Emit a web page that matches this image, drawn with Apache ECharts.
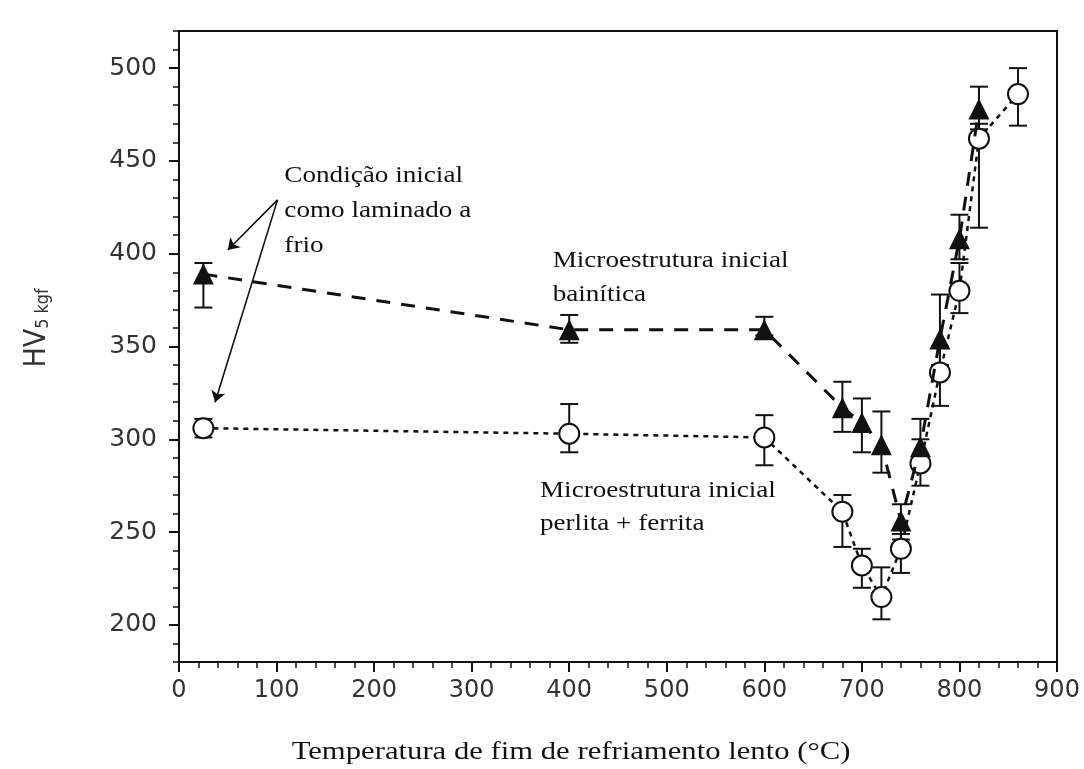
<!DOCTYPE html>
<html>
<head>
<meta charset="utf-8">
<title>HV x Temperatura</title>
<script src="https://cdn.jsdelivr.net/npm/echarts@6/dist/echarts.min.js"></script>
<style>
  html, body { margin: 0; padding: 0; background: #ffffff; }
  #chart { width: 1084px; height: 769px; }
</style>
</head>
<body>
<div id="chart"></div>
<script>
// Microestrutura inicial bainítica (triângulos cheios)
const tempBain = [25, 400, 600, 680, 700, 720, 740, 760, 780, 800, 820];
const hvBain = [389, 359, 359, 317, 309, 297, 256, 296, 354, 408, 478];
const hvBainLow = [371, 352, 356, 304, 293, 282, 246, 285, 340, 397, 467];
const hvBainHigh = [395, 367, 366, 331, 322, 315, 265, 311, 378, 421, 490];

// Microestrutura inicial perlita + ferrita (círculos vazios)
const tempPerl = [25, 400, 600, 680, 700, 720, 740, 760, 780, 800, 820, 860];
const hvPerl = [306, 303, 301, 261, 232, 215, 241, 287, 336, 380, 462, 486];
const hvPerlLow = [301, 293, 286, 242, 220, 203, 228, 275, 318, 368, 414, 469];
const hvPerlHigh = [311, 319, 313, 270, 241, 231, 249, 300, 350, 395, 470, 500];

// Eixos
const xMin = 0, xMax = 900, xStep = 100;
const yMin = 180, yMax = 520;
const yTickLabels = [200, 250, 300, 350, 400, 450, 500];
const yMinorTicks = [];
for (let v = yMin; v <= yMax; v += 10) yMinorTicks.push(v);

// Seta "Condição inicial": origem e alvos (coordenadas de dados)
const arrowFrom = [101, 429];
const arrowTo = [[50, 402], [37, 320]];

const ink = '#111';
const serif = '"Liberation Serif", "Times New Roman", serif';
const sans = '"DejaVu Sans", "Liberation Sans", Arial, sans-serif';
const stretch = 1.18; // largura extra dos textos serifados

const pts = (xs, ys) => xs.map((x, i) => [x, ys[i]]);
const bars = (xs, lo, hi) => xs.map((x, i) => [x, lo[i], hi[i]]);

function renderErrorBar(params, api) {
  const x = api.value(0);
  const lo = api.coord([x, api.value(1)]);
  const hi = api.coord([x, api.value(2)]);
  const half = 9;
  const st = { stroke: ink, lineWidth: 2 };
  return {
    type: 'group',
    children: [
      { type: 'line', shape: { x1: lo[0], y1: lo[1], x2: hi[0], y2: hi[1] }, style: st },
      { type: 'line', shape: { x1: lo[0] - half, y1: lo[1], x2: lo[0] + half, y2: lo[1] }, style: st },
      { type: 'line', shape: { x1: hi[0] - half, y1: hi[1], x2: hi[0] + half, y2: hi[1] }, style: st }
    ]
  };
}

const chart = echarts.init(document.getElementById('chart'), null, { renderer: 'canvas' });

chart.setOption({
  animation: false,
  backgroundColor: '#ffffff',
  grid: {
    left: 179, right: 27, top: 31, bottom: 107,
    show: true, borderColor: ink, borderWidth: 2, backgroundColor: 'transparent'
  },
  xAxis: {
    type: 'value', min: xMin, max: xMax, interval: xStep,
    axisLine: { show: true, lineStyle: { color: ink, width: 2 } },
    axisTick: { show: true, length: 10, lineStyle: { color: ink, width: 2 } },
    minorTick: { show: true, splitNumber: 5, length: 6, lineStyle: { color: ink, width: 1.5 } },
    splitLine: { show: false },
    axisLabel: { color: '#333', fontFamily: sans, fontSize: 24, margin: 17 }
  },
  yAxis: [
    {
      type: 'value', min: yMin, max: yMax, position: 'left',
      axisLine: { show: true, lineStyle: { color: ink, width: 2 } },
      axisTick: { show: true, length: 10, customValues: yTickLabels, lineStyle: { color: ink, width: 2 } },
      axisLabel: { customValues: yTickLabels, color: '#333', fontFamily: sans, fontSize: 25, margin: 22 },
      splitLine: { show: false }
    },
    {
      type: 'value', min: yMin, max: yMax, position: 'left',
      axisLine: { show: false },
      axisTick: { show: true, length: 6, customValues: yMinorTicks, lineStyle: { color: ink, width: 1.5 } },
      axisLabel: { show: false },
      splitLine: { show: false }
    }
  ],
  series: [
    {
      name: 'erro perlita',
      type: 'custom',
      renderItem: renderErrorBar,
      data: bars(tempPerl, hvPerlLow, hvPerlHigh),
      encode: { x: 0, y: [1, 2] },
      z: 2
    },
    {
      name: 'erro bainita',
      type: 'custom',
      renderItem: renderErrorBar,
      data: bars(tempBain, hvBainLow, hvBainHigh),
      encode: { x: 0, y: [1, 2] },
      z: 2
    },
    {
      name: 'perlita + ferrita',
      type: 'line',
      data: pts(tempPerl, hvPerl),
      symbol: 'circle',
      symbolSize: 20,
      lineStyle: { color: ink, width: 2.5, type: [5, 5] },
      itemStyle: { color: '#ffffff', borderColor: ink, borderWidth: 2 },
      z: 3
    },
    {
      name: 'bainítica',
      type: 'line',
      data: pts(tempBain, hvBain),
      symbol: 'triangle',
      symbolSize: 21,
      lineStyle: { color: ink, width: 3, type: [14, 11] },
      itemStyle: { color: ink },
      z: 4,
      markLine: {
        silent: true,
        symbol: ['none', 'arrow'],
        symbolSize: 11,
        label: { show: false },
        lineStyle: { type: 'solid', color: ink, width: 1.6 },
        data: arrowTo.map(t => [{ coord: arrowFrom }, { coord: t }])
      }
    }
  ]
});

// Textos de anotação, ancorados em coordenadas de dados
const notes = [
  { at: [108, 442], lines: ['Condição inicial', 'como laminado a', 'frio'], lh: 35 },
  { at: [383, 396], lines: ['Microestrutura inicial', 'bainítica'], lh: 34 },
  { at: [370, 272], lines: ['Microestrutura inicial', 'perlita + ferrita'], lh: 33 }
];

const graphics = notes.map(n => {
  const p = chart.convertToPixel({ gridIndex: 0 }, n.at);
  return {
    type: 'text',
    x: p[0],
    y: p[1] - n.lh / 2,
    scaleX: stretch,
    z: 10,
    style: {
      text: n.lines.join('\n'),
      fontFamily: serif,
      fontSize: 23,
      lineHeight: n.lh,
      fill: '#111',
      align: 'left',
      verticalAlign: 'top',
      backgroundColor: '#ffffff'
    }
  };
});

// Título do eixo x
graphics.push({
  type: 'text',
  x: 571, y: 752,
  scaleX: stretch,
  style: {
    text: 'Temperatura de fim de refriamento lento (°C)',
    fontFamily: serif, fontSize: 26, fill: '#111',
    align: 'center', verticalAlign: 'middle'
  }
});

// Título do eixo y: HV com subscrito
graphics.push({
  type: 'text',
  x: 33, y: 328,
  rotation: Math.PI / 2,
  scaleY: 1.12,
  style: {
    text: '{a|HV}{b|5 kgf}',
    align: 'center', verticalAlign: 'middle',
    rich: {
      a: { fontFamily: sans, fontSize: 27, fill: '#333', lineHeight: 34, verticalAlign: 'bottom' },
      b: { fontFamily: sans, fontSize: 16, fill: '#333', lineHeight: 13, verticalAlign: 'bottom' }
    }
  }
});

chart.setOption({ graphic: graphics });
</script>
</body>
</html>
